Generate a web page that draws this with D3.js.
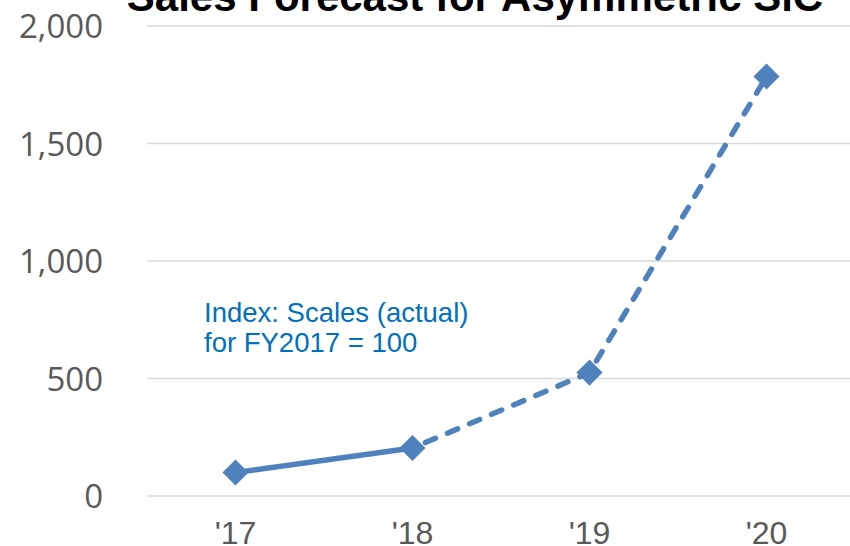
<!DOCTYPE html>
<html>
<head>
<meta charset="utf-8">
<script src="https://cdn.jsdelivr.net/npm/d3@7"></script>
<style>
  html, body { margin: 0; padding: 0; background: #fff; }
  svg { display: block; }
</style>
</head>
<body>
<svg id="chart" width="850" height="546"></svg>
<script>
'use strict';

var years = ["'17", "'18", "'19", "'20"]
  , values = [100, 204, 525, 1785]
  , yTicks = [0, 500, 1000, 1500, 2000]
  , actualIdx = [0, 1]
  , forecastIdx = [1, 2, 3]
  , noteLines = ['Index: Scales (actual)', 'for FY2017 = 100']

var W = 850, H = 546
  , blue = '#4F81BD'
  , grey = '#595959'

var svg = d3.select('#chart')

var x = d3.scaleBand().domain(years).range([147, 855])
var y = d3.scaleLinear().domain([0, 2000]).range([496, 26])

function cx(i) { return x(years[i]) + x.bandwidth() / 2 }

// gridlines
svg.append('g').selectAll('line')
  .data(yTicks)
  .enter().append('line')
    .attr('x1', 147).attr('x2', W)
    .attr('y1', function(d) { return y(d) })
    .attr('y2', function(d) { return y(d) })
    .attr('stroke', '#D9D9D9')
    .attr('stroke-width', 1.5)

// y axis labels
var yAxis = d3.axisLeft(y).tickValues(yTicks).tickFormat(d3.format(',')).tickSize(0).tickPadding(0)
var gy = svg.append('g').attr('transform', 'translate(103,0)').call(yAxis)
gy.select('.domain').remove()
gy.selectAll('text')
  .attr('font-family', '"Open Sans", sans-serif')
  .attr('font-size', 33)
  .attr('fill', grey)
  .attr('dy', '0.36em')

// x axis labels
var xAxis = d3.axisBottom(x).tickSize(0).tickPadding(0)
var gx = svg.append('g').attr('transform', 'translate(0,544)').call(xAxis)
gx.select('.domain').remove()
gx.selectAll('text')
  .attr('font-family', '"Liberation Sans", Arial, sans-serif')
  .attr('font-size', 32)
  .attr('fill', grey)
  .attr('y', 0)
  .attr('dy', 0)

var line = d3.line()
  .x(function(i) { return cx(i) })
  .y(function(i) { return y(values[i]) })

svg.append('path')
  .attr('d', line(actualIdx))
  .attr('fill', 'none')
  .attr('stroke', blue)
  .attr('stroke-width', 5.5)

svg.append('path')
  .attr('d', line(forecastIdx))
  .attr('fill', 'none')
  .attr('stroke', blue)
  .attr('stroke-width', 5.5)
  .attr('stroke-linecap', 'round')
  .attr('stroke-dasharray', '11,13')
  .attr('stroke-dashoffset', -14)

// diamond markers
var diamond = d3.symbol().type(d3.symbolSquare).size(340)
svg.append('g').selectAll('path')
  .data(values)
  .enter().append('path')
    .attr('d', diamond)
    .attr('transform', function(d, i) {
      return 'translate(' + [cx(i), y(d)] + ') rotate(45)'
    })
    .attr('fill', blue)

// annotation
svg.append('text')
  .attr('font-family', '"Liberation Sans", Arial, sans-serif')
  .attr('font-size', 27.5)
  .attr('fill', '#0070C0')
  .selectAll('tspan')
  .data(noteLines)
  .enter().append('tspan')
    .attr('x', 204)
    .attr('y', function(d, i) { return 322 + i * 30 })
    .text(function(d) { return d })

// title (cut off at top as in the original)
svg.append('text')
  .attr('x', 475)
  .attr('y', 11)
  .attr('text-anchor', 'middle')
  .attr('font-family', '"Liberation Sans", Arial, sans-serif')
  .attr('font-weight', 'bold')
  .attr('font-size', 42)
  .attr('fill', '#000')
  .text('Sales Forecast for Asymmetric SiC')
</script>
</body>
</html>
